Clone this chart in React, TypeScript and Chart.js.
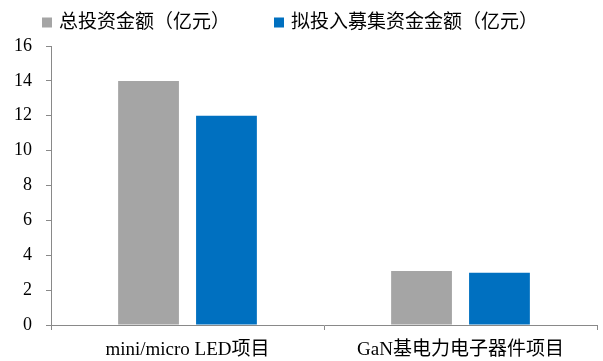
import React, { useEffect, useRef } from "react";
import { Chart, registerables } from "chart.js";

Chart.register(...registerables);

const categories = ["mini/micro LED项目", "GaN基电力电子器件项目"];
const totalInvest = [14.0, 3.1];
const raisedFunds = [12.0, 3.0];
const seriesNames = ["总投资金额（亿元）", "拟投入募集资金金额（亿元）"];
const seriesColors = ["#A5A5A5", "#0070C0"];

const FONT = "'Liberation Serif', 'Times New Roman', 'Noto Sans CJK SC', serif";

const topLegend = {
  id: "topLegend",
  afterDraw(chart: any) {
    const ctx = chart.ctx;
    ctx.save();
    ctx.font = `19px ${FONT}`;
    ctx.textBaseline = "middle";
    ctx.textAlign = "left";
    const box = 10;
    const textGap = 7;
    const itemGap = 44;
    let x = chart.chartArea.left - 9;
    const cy = 22.5;
    for (const ds of chart.data.datasets) {
      ctx.fillStyle = ds.backgroundColor;
      ctx.fillRect(x, cy - box / 2, box, box);
      ctx.fillStyle = "#000";
      ctx.fillText(ds.label, x + box + textGap, cy + 1);
      x += box + textGap + ctx.measureText(ds.label).width + itemGap;
    }
    ctx.restore();
  },
};

export default function App() {
  const ref = useRef<HTMLCanvasElement>(null);
  useEffect(() => {
    document.body.style.margin = "0";
    const chart = new Chart(ref.current!, {
      type: "bar",
      data: {
        labels: categories,
        datasets: [
          {
            label: seriesNames[0],
            data: totalInvest,
            backgroundColor: seriesColors[0],
            categoryPercentage: 0.571,
            barPercentage: 0.78,
          },
          {
            label: seriesNames[1],
            data: raisedFunds,
            backgroundColor: seriesColors[1],
            categoryPercentage: 0.571,
            barPercentage: 0.78,
          },
        ],
      },
      options: {
        animation: false,
        responsive: false,
        layout: { padding: { left: 0, right: 6, top: 46, bottom: 0 } },
        plugins: {
          tooltip: { enabled: false },
          legend: { display: false },
        },
        scales: {
          x: {
            grid: {
              offset: true,
              drawOnChartArea: false,
              drawTicks: true,
              tickLength: 5,
              color: "#898989",
            },
            border: { color: "#898989", width: 1 },
            ticks: { color: "#000", font: { family: FONT, size: 19 }, padding: 9 },
            afterFit: (s: any) => {
              s.height = 36;
            },
          },
          y: {
            min: 0,
            max: 16,
            grid: {
              drawOnChartArea: false,
              drawTicks: true,
              tickLength: 5,
              color: "#898989",
            },
            border: { color: "#898989", width: 1 },
            ticks: {
              stepSize: 2,
              color: "#000",
              font: { family: FONT, size: 18 },
              padding: 14,
            },
            afterFit: (s: any) => {
              s.width = 51;
            },
          },
        },
      },
      plugins: [topLegend],
    });
    return () => chart.destroy();
  }, []);
  return (
    <div style={{ width: 603, height: 361 }}>
      <canvas ref={ref} width={603} height={361} />
    </div>
  );
}
